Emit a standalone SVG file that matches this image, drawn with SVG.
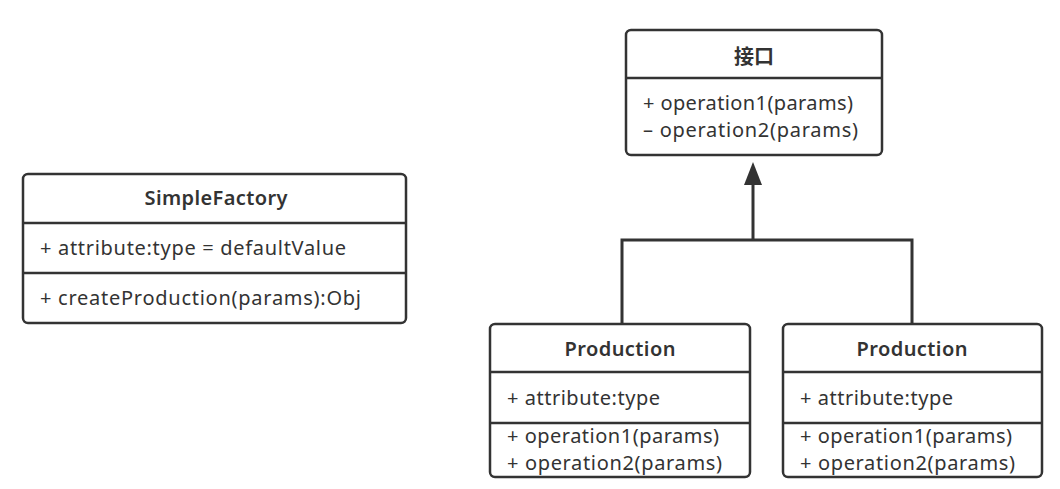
<svg xmlns="http://www.w3.org/2000/svg" width="1060" height="489" viewBox="0 0 1060 489">
<style>
.box{fill:#fff;stroke:#333;stroke-width:2.5}
.sep{stroke:#333;stroke-width:2.5}
.t{font-family:"Noto Sans","Liberation Sans","Noto Sans CJK SC",sans-serif;font-size:20px;fill:#333}
.h{font-family:"Noto Sans","Liberation Sans","Noto Sans CJK SC",sans-serif;font-size:20px;font-weight:600;fill:#333;text-anchor:middle}
.c{fill:none;stroke:#333;stroke-width:3}
</style>
<rect width="1060" height="489" fill="#fff"/>
<g id="connectors">
<polyline class="c" points="622,324 622,240 912,240 912,324"/>
<line class="c" x1="753" y1="240" x2="753" y2="182"/>
<polygon points="753,162 744,185 762,185" fill="#333"/>
</g>
<g id="simplefactory">
<rect class="box" x="23" y="174" width="383" height="149" rx="5"/>
<line class="sep" x1="23" y1="223" x2="406" y2="223"/>
<line class="sep" x1="23" y1="273" x2="406" y2="273"/>
<text class="h" x="216" y="205" textLength="143">SimpleFactory</text>
<text class="t" x="40" y="255" textLength="306">+ attribute:type = defaultValue</text>
<text class="t" x="40" y="305" textLength="321">+ createProduction(params):Obj</text>
</g>
<g id="interface">
<rect class="box" x="626" y="30" width="256" height="125" rx="5"/>
<line class="sep" x1="626" y1="78" x2="882" y2="78"/>
<text class="h" x="754" y="64" font-family="Noto Sans CJK SC, sans-serif">接口</text>
<text class="t" x="643" y="110" textLength="210">+ operation1(params)</text>
<text class="t" x="643" y="137" textLength="215">– operation2(params)</text>
</g>
<g id="production1">
<rect class="box" x="490" y="324" width="260" height="153" rx="5"/>
<line class="sep" x1="490" y1="372" x2="750" y2="372"/>
<line class="sep" x1="490" y1="423" x2="750" y2="423"/>
<text class="h" x="620" y="356" textLength="111">Production</text>
<text class="t" x="507" y="405" textLength="153">+ attribute:type</text>
<text class="t" x="507" y="443" textLength="212">+ operation1(params)</text>
<text class="t" x="507" y="470" textLength="215">+ operation2(params)</text>
</g>
<g id="production2">
<rect class="box" x="783" y="324" width="259" height="153" rx="5"/>
<line class="sep" x1="783" y1="372" x2="1042" y2="372"/>
<line class="sep" x1="783" y1="423" x2="1042" y2="423"/>
<text class="h" x="912" y="356" textLength="111">Production</text>
<text class="t" x="800" y="405" textLength="153">+ attribute:type</text>
<text class="t" x="800" y="443" textLength="212">+ operation1(params)</text>
<text class="t" x="800" y="470" textLength="215">+ operation2(params)</text>
</g>
</svg>
